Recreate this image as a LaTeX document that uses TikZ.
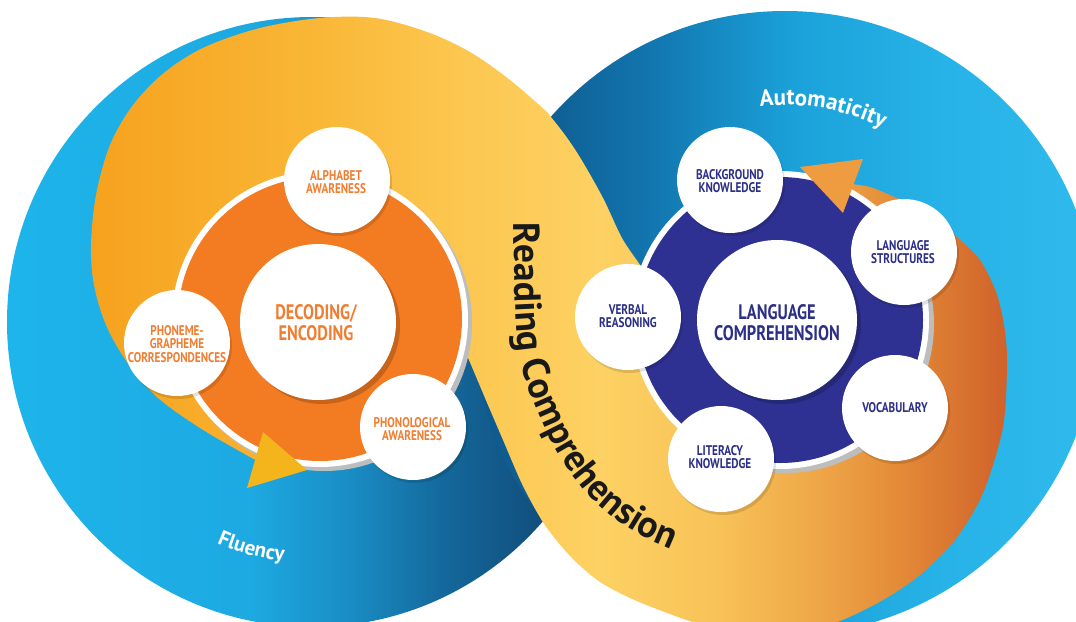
\documentclass[tikz,border=0pt]{standalone}
\usepackage{fontspec}
\setmainfont{PT Sans}
\newfontfamily\SatFont[FakeStretch=0.8]{PT Sans}
\newfontfamily\HubFont[FakeStretch=0.78]{PT Sans}
\usetikzlibrary{decorations.text}
% colours
\definecolor{lbA}{HTML}{1DB5EB}\definecolor{lbB}{HTML}{1DA9E1}\definecolor{lbC}{HTML}{1A8DC5}
\definecolor{lbD}{HTML}{14679A}\definecolor{lbE}{HTML}{114F7D}\definecolor{lbF}{HTML}{0F4A78}
\definecolor{rbA}{HTML}{0E5A8E}\definecolor{rbB}{HTML}{0F5F94}\definecolor{rbC}{HTML}{1275AE}
\definecolor{rbD}{HTML}{1BA2DA}\definecolor{rbE}{HTML}{27B3E8}\definecolor{rbF}{HTML}{30BAEC}
\definecolor{bA}{HTML}{F6A21E}\definecolor{bB}{HTML}{F9B534}\definecolor{bC}{HTML}{FCC64E}
\definecolor{bD}{HTML}{FDD163}\definecolor{bE}{HTML}{F8C257}\definecolor{bF}{HTML}{EEA647}
\definecolor{bG}{HTML}{E38A37}\definecolor{bH}{HTML}{D0612A}
\definecolor{ringorange}{HTML}{F37B21}
\definecolor{navyring}{HTML}{2E3192}
\definecolor{labelorange}{HTML}{EF7E32}
\definecolor{labelnavy}{HTML}{2B2F86}
\definecolor{arrowyellow}{HTML}{F4B41C}
\definecolor{arroworange}{HTML}{EF9B3F}
\definecolor{ringshadow}{HTML}{BDBDBD}
\pgfdeclarehorizontalshading{leftblue}{100bp}{color(0bp)=(lbA); color(25bp)=(lbA); color(45bp)=(lbB); color(53bp)=(lbC); color(61bp)=(lbD); color(68.7bp)=(lbE); color(75bp)=(lbF); color(100bp)=(lbF)}
\pgfdeclarehorizontalshading{rightblue}{100bp}{color(0bp)=(rbA); color(25bp)=(rbA); color(31bp)=(rbB); color(39bp)=(rbC); color(51bp)=(rbD); color(63bp)=(rbE); color(75bp)=(rbF); color(100bp)=(rbF)}
\pgfdeclarehorizontalshading{bandshade}{100bp}{color(0bp)=(bA); color(25bp)=(bA); color(36.4bp)=(bB); color(44.6bp)=(bC); color(52.8bp)=(bD); color(59.3bp)=(bE); color(64.8bp)=(bF); color(69.2bp)=(bG); color(75bp)=(bH); color(100bp)=(bH)}
\newcommand\myRCFont{\bfseries\fontsize{37.5}{37.5}\selectfont}
\newcommand\myAutoFont{\bfseries\fontsize{23}{23}\selectfont}
\newcommand\myFluFont{\bfseries\fontsize{21}{21}\selectfont}
\tikzset{
  satdisc/.style={circle, fill=white, minimum size=106pt, inner sep=0pt},
  hubdisc/.style={circle, fill=white, minimum size=#1, inner sep=0pt},
  satO/.style={inner sep=0pt, align=center, text=labelorange, font=\SatFont\bfseries\fontsize{14}{13.5}\selectfont},
  satN/.style={satO, text=labelnavy},
  hubO/.style={inner sep=0pt, align=center, text=labelorange, font=\HubFont\bfseries\fontsize{21}{21}\selectfont},
  hubN/.style={hubO, text=labelnavy},
  softshadow/.style={fill=black, opacity=0.12},
}
\begin{document}
\begin{tikzpicture}[x=1pt,y=-1pt]
\useasboundingbox (0,0) rectangle (1076,621);
\fill[white] (0,0) rectangle (1076,621);
\clip (0,0) rectangle (1076,621);
% blue circles
\shade[shading=leftblue] (312,322) circle[radius=305];
\shade[shading=rightblue] (785,323) circle[radius=312];
% yellow-orange band
\shade[shading=bandshade]
 plot[smooth, tension=0.55] coordinates {(262,463) (250,457) (200,428) (157,397) (127,362) (106,325) (94,285) (91,245) (96,195) (110,145) (133,105) (165,72) (205,47) (260,28) (320,18) (375,18) (427,32) (470,52) (510,80) (547,112)}
 -- plot[smooth, tension=0.55] coordinates {(547,112) (565,135) (581,159) (603,198) (622,238) (640,265) (652,285)}
 -- (720,300) -- (800,260) -- (845,205)
 -- plot[smooth, tension=0.5] coordinates {(852,184) (870,187) (890,195) (915,207) (940,222) (958,238) (980,260) (996,292) (1004,325) (1007,362) (1003,427) (983,493) (955,540) (920,575) (883,600) (840,621) (800,632) (750,632) (700,624) (662,611) (630,598) (600,582) (576,562) (557,541) (541,519) (522,484) (503,440) (485,398) (469,360) (458,335) (452,318)}
 -- (400,330) -- (300,400) -- (262,440) -- cycle;
% left ring
\fill[ringshadow] (324,323) circle[radius=148];
\fill[white] (320,319) circle[radius=148];
\fill[ringorange] (320,319) circle[radius=142];
\fill[black, opacity=0.18] (322,326) circle[radius=78];
\node[hubdisc=156pt] (decc) at (318,322) {};
\fill[softshadow] (339,183) circle[radius=53];
\fill[softshadow] (179,346) circle[radius=53];
\fill[softshadow] (415,430) circle[radius=53];
\node[satdisc] (alphc) at (337,180) {};
\node[satdisc] (phonc) at (177,343) {};
\node[satdisc] (pholc) at (413,427) {};
\fill[arrowyellow] (263,432) -- (307,470) -- (247,488) -- cycle;
% right ring
\fill[ringshadow] (785,324) circle[radius=149];
\fill[white] (780,320) circle[radius=149];
\fill[navyring] (780,320) circle[radius=143];
\fill[arroworange] (800,167) -- (863,159) -- (843,213) -- cycle;
\fill[black, opacity=0.18] (781,324) circle[radius=80];
\node[hubdisc=160pt] (langc) at (777,320) {};
\fill[softshadow] (732,183) circle[radius=53];
\fill[softshadow] (630,320) circle[radius=53];
\fill[softshadow] (906,255) circle[radius=53];
\fill[softshadow] (897,411) circle[radius=53];
\fill[softshadow] (723,462) circle[radius=53];
\node[satdisc] (backc) at (730,180) {};
\node[satdisc] (verbc) at (628,317) {};
\node[satdisc] (lstrc) at (904,252) {};
\node[satdisc] (vocc) at (895,408) {};
\node[satdisc] (litc) at (721,459) {};
% labels
\node[satO] (alph) at (336,182) {ALPHABET\\AWARENESS};
\node[satO] (phon) at (177,344) {PHONEME-\\GRAPHEME\\CORRESPONDENCES};
\node[satO] (phol) at (412,429) {PHONOLOGICAL\\AWARENESS};
\node[hubO] (dec) at (316,323) {DECODING/\\ENCODING};
\node[satN] (back) at (730,181) {BACKGROUND\\KNOWLEDGE};
\node[satN] (verb) at (628,316) {VERBAL\\REASONING};
\node[satN] (lstr) at (903,252) {LANGUAGE\\STRUCTURES};
\node[satN] (voc) at (895,408) {VOCABULARY};
\node[satN] (lit) at (720,457) {LITERACY\\KNOWLEDGE};
\node[hubN] (lang) at (777,323) {LANGUAGE\\COMPREHENSION};
% curved texts
\path[decorate, decoration={text along path, text align=left, text color=black!90,
  text={|\myRCFont|Reading Comprehension}}]
  plot[smooth, tension=0.6] coordinates {(514,222) (515,300) (519,350) (527,382) (539,415) (559,455) (584,490) (614,518) (650,540) (692,557) (735,570)};
\path[decorate, decoration={text along path, text align=center, text color=white,
  text={|\myAutoFont|Automaticity}}]
  plot[domain=100:60, samples=60] ({785+218*cos(\x)},{323-218*sin(\x)});
\path[decorate, decoration={text along path, text align=center, text color=white,
  text={|\myFluFont|Fluency}}]
  plot[domain=-116:-94, samples=60] ({312+241*cos(\x)},{322-241*sin(\x)});
\end{tikzpicture}
\end{document}
